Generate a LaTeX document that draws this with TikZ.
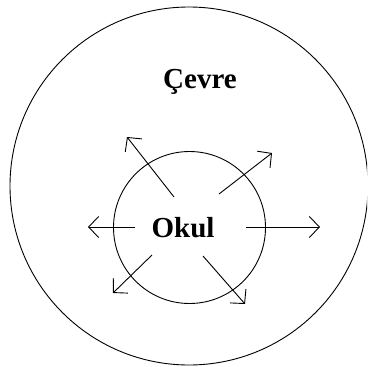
\documentclass[tikz,border=0pt]{standalone}
\usepackage{fontspec}
\setmainfont{Liberation Serif}
\usepackage{tikz}
\usetikzlibrary{arrows.meta, positioning, calc}

\begin{document}
\begin{tikzpicture}[
    x=1pt, y=-1pt,
    ring/.style={draw=black, line width=0.9pt},
    lbl/.style={font=\bfseries\fontsize{29}{30}\selectfont, inner sep=0pt},
    arr/.style={-{Straight Barb[length=10pt, width=21pt]}, line width=0.9pt}
]
\useasboundingbox (0,0) rectangle (367,367);
\clip (0,0) rectangle (367,367);
% outer and inner circles
\node[ring, circle, minimum size=358pt, inner sep=0pt] (env) at (189,186) {};
\node[ring, circle, minimum size=152pt, inner sep=0pt] (school) at (189.5,227.5) {};
% labels
\node[lbl, anchor=base] (cevre) at (200,88) {Çevre};
\node[lbl, anchor=base] (okul) at (183,237) {Okul};
% arrow end points
\coordinate (ulA) at (174,197); \coordinate (ulB) at (127,137);
\coordinate (urA) at (219,194); \coordinate (urB) at (272,153);
\coordinate (lA)  at (135,227); \coordinate (lB)  at (88,227);
\coordinate (rA)  at (246,227); \coordinate (rB)  at (320,227);
\coordinate (dlA) at (152,255); \coordinate (dlB) at (113,293);
\coordinate (drA) at (203,256); \coordinate (drB) at (245,304);
% arrows pointing out of the school
\draw[arr] (ulA) -- (ulB);
\draw[arr] (urA) -- (urB);
\draw[arr] (lA) -- (lB);
\draw[arr] (rA) -- (rB);
\draw[arr] (dlA) -- (dlB);
\draw[arr] (drA) -- (drB);
\end{tikzpicture}
\end{document}
